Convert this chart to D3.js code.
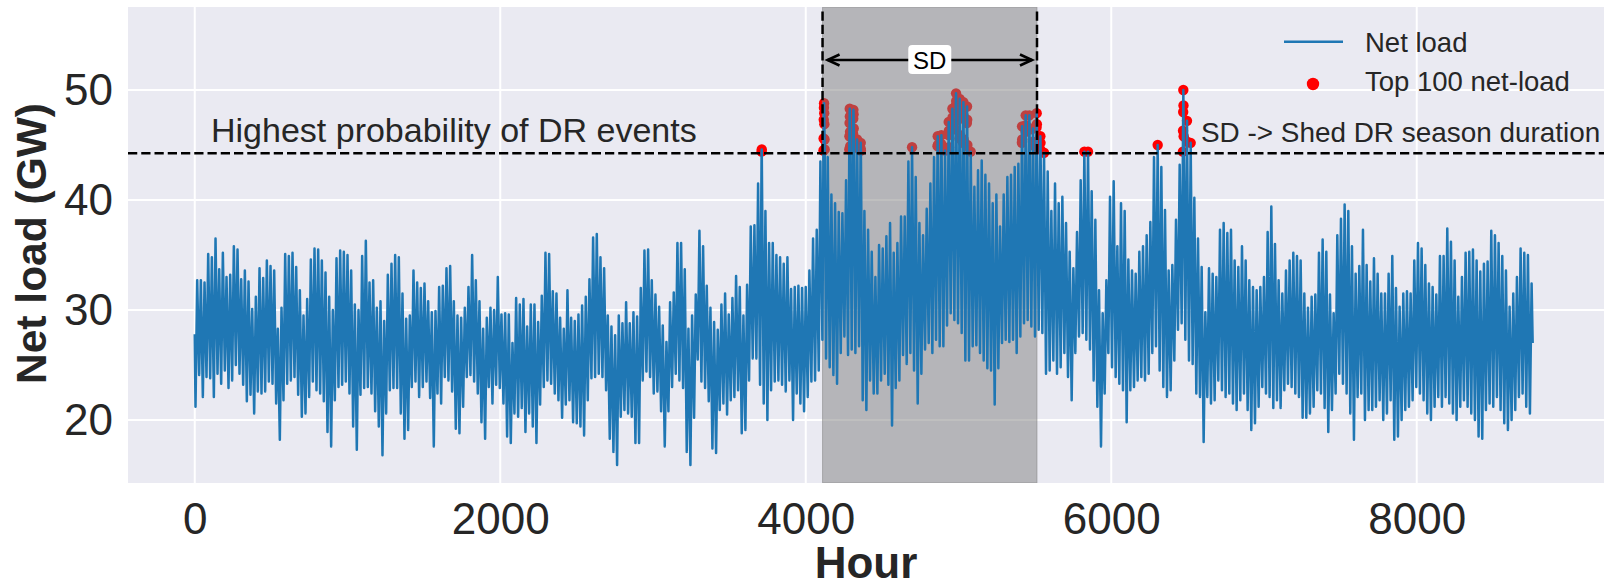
<!DOCTYPE html>
<html>
<head>
<meta charset="utf-8">
<script src="https://cdn.jsdelivr.net/npm/d3@7"></script>
<style>
  html, body { margin: 0; padding: 0; background: #ffffff; }
  svg { display: block; font-family: "Liberation Sans", Arial, sans-serif; }
</style>
</head>
<body>
<svg id="chart" width="1606" height="584"></svg>
<script>
// Daily net-load envelope (GW): evening peak and early-morning trough for each of the 365 days
const peakLoad = [
  32.7, 32.7, 32.5, 35.1, 34.8, 36.5, 33.7, 35.2, 33.0, 33.2,
  35.8, 35.5, 32.8, 33.6, 32.6, 30.1, 31.2, 33.8, 32.9, 34.5,
  34.0, 33.6, 28.3, 30.2, 35.1, 34.9, 35.2, 33.9, 31.8, 29.5,
  31.0, 34.6, 35.6, 35.5, 34.5, 33.4, 31.2, 30.0, 34.7, 35.4,
  35.3, 35.0, 33.6, 30.5, 30.0, 34.9, 36.3, 32.5, 32.7, 30.2,
  30.8, 29.0, 33.2, 34.2, 35.0, 34.8, 31.5, 29.2, 29.5, 33.6,
  32.5, 32.0, 32.4, 30.8, 29.8, 29.9, 32.1, 32.2, 33.8, 34.0,
  30.8, 29.5, 29.3, 30.2, 32.1, 35.0, 32.7, 30.8, 28.3, 29.3,
  30.2, 30.0, 33.0, 29.6, 29.7, 29.6, 27.0, 31.1, 30.5, 31.0,
  28.5, 30.5, 30.5, 28.9, 31.3, 35.2, 35.1, 31.7, 31.5, 29.3,
  28.3, 31.8, 29.3, 29.0, 29.6, 30.4, 31.2, 32.8, 36.6, 36.9,
  34.8, 33.8, 29.5, 28.5, 27.7, 29.5, 28.8, 30.7, 28.8, 29.8,
  29.4, 32.0, 35.4, 35.5, 32.7, 31.4, 30.3, 28.6, 27.1, 30.7,
  31.6, 36.1, 36.1, 33.7, 28.3, 29.5, 31.4, 37.2, 35.8, 32.2,
  30.2, 28.9, 28.2, 30.5, 31.5, 29.6, 31.1, 33.1, 32.1, 29.5,
  32.3, 37.6, 37.7, 41.5, 44.6, 39.0, 36.1, 36.1, 35.0, 34.8,
  34.2, 34.8, 31.9, 32.1, 32.2, 32.0, 32.1, 33.6, 36.5, 37.3,
  43.5, 48.8, 43.9, 40.5, 39.7, 38.9, 38.8, 41.8, 48.3, 48.2,
  45.5, 45.2, 39.0, 37.3, 35.3, 33.0, 35.9, 35.6, 36.7, 37.9,
  35.2, 36.1, 38.5, 38.5, 43.5, 44.8, 42.1, 37.9, 36.8, 39.2,
  41.5, 43.9, 45.8, 45.9, 44.5, 47.1, 48.3, 49.7, 49.2, 48.9,
  48.5, 44.4, 41.2, 42.7, 43.6, 42.3, 41.5, 39.7, 40.5, 37.6,
  40.5, 42.1, 42.3, 43.0, 43.3, 46.7, 47.7, 47.7, 46.5, 47.9,
  45.8, 44.3, 42.6, 39.0, 41.5, 39.7, 40.3, 37.9, 35.3, 33.8,
  37.1, 41.8, 44.4, 44.4, 40.8, 38.2, 31.8, 29.7, 32.7, 40.3,
  41.7, 35.8, 39.7, 39.0, 34.6, 33.6, 33.3, 35.3, 35.8, 36.8,
  38.0, 43.9, 45.0, 43.0, 39.1, 33.6, 34.1, 38.2, 43.2, 50.0,
  47.2, 45.2, 40.2, 36.5, 33.9, 29.8, 33.8, 33.3, 33.0, 37.3,
  37.9, 37.0, 37.3, 34.5, 33.9, 35.8, 34.5, 32.7, 32.1, 31.8,
  32.1, 33.0, 37.1, 39.4, 36.0, 32.7, 31.5, 33.6, 34.5, 35.2,
  34.9, 34.5, 31.5, 30.2, 31.2, 31.4, 35.2, 36.4, 35.3, 31.4,
  29.7, 36.8, 38.3, 39.6, 39.0, 35.8, 33.3, 34.0, 37.3, 34.1,
  32.6, 34.7, 33.3, 31.5, 31.5, 33.3, 34.9, 32.0, 30.3, 31.5,
  31.7, 31.5, 34.5, 36.1, 35.6, 34.1, 32.4, 32.1, 31.4, 34.9,
  34.9, 37.4, 36.2, 34.5, 31.2, 33.0, 35.2, 35.3, 35.5, 34.5,
  33.5, 34.2, 34.4, 37.2, 36.8, 36.1, 34.9, 33.6, 30.3, 31.5,
  33.0, 35.6, 35.2, 35.0, 32.4
];

const troughLoad = [
  21.2, 24.1, 22.1, 23.9, 23.8, 22.1, 24.2, 23.3, 24.5, 22.9,
  23.6, 25.0, 24.2, 23.2, 21.7, 22.3, 20.6, 22.6, 22.4, 22.6,
  23.5, 23.3, 21.5, 18.2, 21.8, 23.3, 23.6, 23.9, 22.3, 20.3,
  20.6, 22.1, 23.5, 22.7, 22.4, 21.7, 18.9, 17.6, 21.8, 23.0,
  23.2, 23.5, 22.4, 19.4, 17.3, 22.3, 22.9, 23.0, 22.4, 20.8,
  19.4, 16.8, 20.6, 22.7, 22.9, 22.9, 20.6, 18.3, 19.1, 23.0,
  23.5, 22.1, 23.0, 23.5, 22.0, 17.6, 22.4, 21.5, 23.9, 23.6,
  22.6, 19.2, 18.8, 21.2, 23.9, 24.1, 23.5, 22.4, 19.8, 18.3,
  23.0, 21.5, 23.2, 22.9, 21.5, 18.5, 17.9, 20.6, 20.3, 21.1,
  18.9, 20.6, 19.4, 17.9, 21.4, 23.0, 23.6, 23.3, 22.4, 21.8,
  20.2, 21.4, 21.8, 19.8, 19.7, 19.4, 18.6, 21.8, 23.8, 23.9,
  24.2, 23.9, 22.7, 18.3, 17.1, 15.9, 20.3, 20.9, 20.6, 20.3,
  17.9, 17.9, 23.6, 24.4, 23.9, 22.4, 22.6, 20.8, 17.6, 20.8,
  23.0, 24.2, 23.6, 22.9, 17.1, 15.9, 20.2, 25.5, 23.5, 22.9,
  21.7, 17.4, 17.0, 20.9, 21.5, 20.5, 21.8, 22.1, 22.7, 18.8,
  19.1, 23.6, 25.6, 25.6, 23.2, 21.5, 20.0, 22.7, 23.5, 23.6,
  23.2, 22.6, 23.6, 20.0, 22.4, 21.5, 20.8, 22.1, 23.5, 23.6,
  24.5, 27.3, 25.6, 24.8, 24.1, 23.3, 26.1, 27.6, 25.9, 26.4,
  26.1, 26.7, 21.8, 20.9, 23.6, 22.4, 22.4, 23.6, 24.2, 23.2,
  19.5, 22.9, 23.6, 25.9, 25.1, 26.1, 24.5, 21.5, 24.2, 26.4,
  27.0, 26.1, 27.3, 26.7, 26.7, 28.6, 29.7, 29.1, 28.8, 27.9,
  25.4, 25.4, 26.7, 26.8, 26.1, 25.4, 24.7, 24.5, 21.4, 24.7,
  27.0, 27.3, 27.1, 27.3, 26.1, 27.6, 28.8, 29.1, 28.5, 27.6,
  28.2, 27.9, 24.2, 24.5, 25.4, 24.2, 24.8, 26.1, 23.9, 21.8,
  26.1, 27.6, 27.9, 27.3, 26.4, 23.6, 21.2, 17.6, 22.4, 26.1,
  24.8, 23.9, 23.3, 22.7, 19.8, 22.7, 23.0, 23.6, 23.9, 23.6,
  24.2, 26.1, 26.7, 24.5, 23.0, 22.1, 22.7, 25.4, 28.2, 28.8,
  27.3, 25.4, 25.1, 22.4, 22.1, 18.0, 22.1, 21.5, 21.8, 23.6,
  22.7, 22.1, 22.4, 21.5, 20.9, 21.8, 22.4, 20.9, 19.1, 19.7,
  21.2, 23.0, 22.4, 22.1, 21.1, 21.8, 21.1, 22.7, 23.3, 23.0,
  22.4, 22.1, 20.2, 20.2, 20.6, 21.2, 22.7, 22.4, 21.1, 18.9,
  20.9, 22.4, 24.2, 23.3, 22.4, 20.6, 18.2, 22.1, 22.4, 20.0,
  20.9, 20.9, 21.2, 21.8, 20.0, 20.6, 21.8, 18.2, 18.5, 20.0,
  20.9, 21.2, 21.8, 23.0, 22.4, 21.8, 20.6, 20.0, 21.2, 22.1,
  21.2, 22.1, 21.5, 20.6, 20.0, 21.2, 21.8, 21.2, 20.6, 20.0,
  18.5, 18.3, 20.9, 21.5, 21.2, 22.1, 20.9, 19.7, 19.1, 20.0,
  20.9, 22.1, 22.4, 21.2, 20.6
];

// First and last hourly readings of the year
const startLoad = 27.8;
const endLoad = 27.0;

// The 100 highest hourly net-load readings: [hour, GW]
const topHours = [
  [3711, 44.4], [3712, 44.6],
  [4116, 44.5], [4117, 45.6], [4118, 47.3], [4119, 48.4], [4120, 48.8], [4121, 47.9], [4122, 46.9], [4123, 45.5], [4124, 44.6],
  [4285, 44.6], [4286, 45.8], [4287, 47.0], [4288, 48.3], [4289, 47.6], [4290, 46.2], [4291, 44.9],
  [4309, 44.7], [4310, 46.0], [4311, 47.4], [4312, 48.2], [4313, 47.8], [4314, 46.5], [4315, 45.0],
  [4335, 44.8], [4336, 45.5], [4337, 44.9],
  [4359, 44.7], [4360, 45.2], [4361, 44.5],
  [4696, 44.8],
  [4863, 44.9], [4864, 45.8], [4865, 45.0],
  [4887, 45.1], [4888, 45.9], [4889, 44.8],
  [4912, 44.5],
  [4935, 45.9], [4936, 47.1], [4937, 46.3], [4938, 44.8],
  [4959, 46.9], [4960, 48.3], [4961, 47.5],
  [4982, 46.4], [4983, 48.6], [4984, 49.7], [4985, 49.0], [4986, 47.2],
  [5006, 45.6], [5007, 47.8], [5008, 49.2], [5009, 48.1], [5010, 45.9],
  [5030, 45.2], [5031, 47.4], [5032, 48.9], [5033, 47.7], [5034, 45.5],
  [5054, 44.9], [5055, 47.0], [5056, 48.5], [5057, 47.3], [5058, 45.0],
  [5080, 44.4],
  [5415, 45.2], [5416, 46.7], [5417, 45.5],
  [5439, 46.2], [5440, 47.7], [5441, 46.8],
  [5463, 46.5], [5464, 47.7], [5465, 46.4],
  [5487, 45.3], [5488, 46.5], [5489, 45.0],
  [5510, 44.7], [5511, 46.6], [5512, 47.9], [5513, 46.9], [5514, 45.1],
  [5535, 44.6], [5536, 45.8], [5537, 45.2],
  [5560, 44.3],
  [5824, 44.4], [5848, 44.4],
  [6304, 45.0],
  [6469, 44.4], [6470, 46.3], [6471, 48.0], [6472, 50.0], [6473, 48.6], [6474, 45.8],
  [6496, 47.2], [6497, 45.3],
  [6520, 45.2]
];

// Threshold of the top-100 hours and the shed DR season window (hours)
const threshold = 44.25;
const seasonStart = 4110;
const seasonEnd = 5514;

const xTicks = [0, 2000, 4000, 6000, 8000];
const yTicks = [20, 30, 40, 50];

// Hour offsets inside a day for the trough and the evening peak
const TROUGH_HOUR = 5, PEAK_HOUR = 16;

// ---------- build the hourly trace ----------
const topSet = new Set(topHours.map(d => d[0]));
const series = [{ h: 0, v: startLoad }];
peakLoad.forEach((p, d) => {
  series.push({ h: d * 24 + TROUGH_HOUR, v: troughLoad[d] });
  if (!topSet.has(d * 24 + PEAK_HOUR)) series.push({ h: d * 24 + PEAK_HOUR, v: p });
});
topHours.forEach(([h, v]) => series.push({ h, v }));
series.push({ h: 8759, v: endLoad });
series.sort((a, b) => a.h - b.h);

// ---------- layout ----------
const svg = d3.select("#chart");
const L = 128, R = 1604, T = 7, B = 483;
const x = d3.scaleLinear().domain([-437, 9226]).range([L, R]);
const y = d3.scaleLinear().domain([14.27, 57.55]).range([B, T]);
const textColor = "#262626";

svg.append("rect").attr("x", L).attr("y", T).attr("width", R - L).attr("height", B - T)
  .attr("fill", "#eaeaf2");

const grid = svg.append("g");
grid.selectAll("line.gx").data(xTicks).enter().append("line")
  .attr("x1", d => x(d)).attr("x2", d => x(d)).attr("y1", T).attr("y2", B)
  .attr("stroke", "#ffffff").attr("stroke-width", 2);
grid.selectAll("line.gy").data(yTicks).enter().append("line")
  .attr("x1", L).attr("x2", R).attr("y1", d => y(d)).attr("y2", d => y(d))
  .attr("stroke", "#ffffff").attr("stroke-width", 2);

// clip to the axes area
svg.append("defs").append("clipPath").attr("id", "plotClip")
  .append("rect").attr("x", L).attr("y", T).attr("width", R - L).attr("height", B - T);
const plot = svg.append("g").attr("clip-path", "url(#plotClip)");

// top-100 markers (sit beneath the season shading)
plot.selectAll("circle.top").data(topHours).enter().append("circle")
  .attr("cx", d => x(d[0])).attr("cy", d => y(d[1])).attr("r", 5.2)
  .attr("fill", "#ff0000");

// shed DR season shading
plot.append("rect")
  .attr("x", x(seasonStart)).attr("width", x(seasonEnd) - x(seasonStart))
  .attr("y", T).attr("height", B - T)
  .attr("fill", "#808080").attr("fill-opacity", 0.5)
  .attr("stroke", "#808080").attr("stroke-opacity", 0.5).attr("stroke-width", 1);

// net load trace
const line = d3.line().x(d => x(d.h)).y(d => y(d.v));
plot.append("path").datum(series)
  .attr("d", line).attr("fill", "none")
  .attr("stroke", "#1f77b4").attr("stroke-width", 2.5)
  .attr("stroke-linejoin", "round");

// threshold and season boundaries
const dash = "9.25,4";
plot.append("line").attr("x1", L).attr("x2", R)
  .attr("y1", y(threshold)).attr("y2", y(threshold))
  .attr("stroke", "#000").attr("stroke-width", 2.5).attr("stroke-dasharray", dash);
[seasonStart, seasonEnd].forEach(h => {
  plot.append("line").attr("x1", x(h)).attr("x2", x(h))
    .attr("y1", y(threshold)).attr("y2", T + 2)
    .attr("stroke", "#000").attr("stroke-width", 2.5).attr("stroke-dasharray", dash);
});

// double-headed SD arrow
const ay = 60;
const ax0 = x(seasonStart) + 5, ax1 = x(seasonEnd) - 5;
const arrow = svg.append("g").attr("stroke", "#000").attr("stroke-width", 2.6)
  .attr("fill", "none").attr("stroke-linecap", "butt");
arrow.append("line").attr("x1", ax0).attr("x2", ax1).attr("y1", ay).attr("y2", ay);
arrow.append("polyline").attr("points", `${ax0 + 12},${ay - 5.5} ${ax0},${ay} ${ax0 + 12},${ay + 5.5}`);
arrow.append("polyline").attr("points", `${ax1 - 12},${ay - 5.5} ${ax1},${ay} ${ax1 - 12},${ay + 5.5}`);

const mid = (x(seasonStart) + x(seasonEnd)) / 2;
svg.append("rect").attr("x", mid - 21.5).attr("y", 45).attr("width", 43).attr("height", 29)
  .attr("rx", 4).attr("fill", "#ffffff");
svg.append("text").attr("x", mid).attr("y", 68.5).attr("text-anchor", "middle")
  .attr("font-size", 24).attr("fill", "#000").text("SD");

// annotations
svg.append("text").attr("x", 211).attr("y", 142)
  .attr("font-size", 34).attr("fill", textColor).text("Highest probability of DR events");
svg.append("text").attr("x", 1201).attr("y", 141.5)
  .attr("font-size", 27.9).attr("fill", textColor).text("SD -> Shed DR season duration");

// legend
const lg = svg.append("g");
lg.append("line").attr("x1", 1284).attr("x2", 1343).attr("y1", 41.7).attr("y2", 41.7)
  .attr("stroke", "#1f77b4").attr("stroke-width", 2.5);
lg.append("text").attr("x", 1365).attr("y", 51.5).attr("font-size", 27.5)
  .attr("fill", textColor).text("Net load");
lg.append("circle").attr("cx", 1313).attr("cy", 84).attr("r", 6.2).attr("fill", "#ff0000");
lg.append("text").attr("x", 1365).attr("y", 90.7).attr("font-size", 27.5)
  .attr("fill", textColor).text("Top 100 net-load");

// axes
const xAxis = svg.append("g").attr("transform", `translate(0,${B})`)
  .call(d3.axisBottom(x).tickValues(xTicks).tickSize(0).tickPadding(20).tickFormat(d3.format("d")));
const yAxis = svg.append("g").attr("transform", `translate(${L},0)`)
  .call(d3.axisLeft(y).tickValues(yTicks).tickSize(0).tickPadding(15).tickFormat(d3.format("d")));
[xAxis, yAxis].forEach(a => {
  a.select(".domain").remove();
  a.selectAll("text").attr("font-size", 44).attr("fill", textColor)
    .attr("font-family", "'Liberation Sans', Arial, sans-serif");
});

svg.append("text").attr("x", (L + R) / 2).attr("y", 578).attr("text-anchor", "middle")
  .attr("font-size", 44).attr("font-weight", "bold").attr("fill", textColor).text("Hour");
svg.append("text").attr("transform", `translate(45.5,243.5) rotate(-90)`)
  .attr("text-anchor", "middle").attr("font-size", 42.5).attr("font-weight", "bold")
  .attr("fill", textColor).text("Net load (GW)");
</script>
</body>
</html>
